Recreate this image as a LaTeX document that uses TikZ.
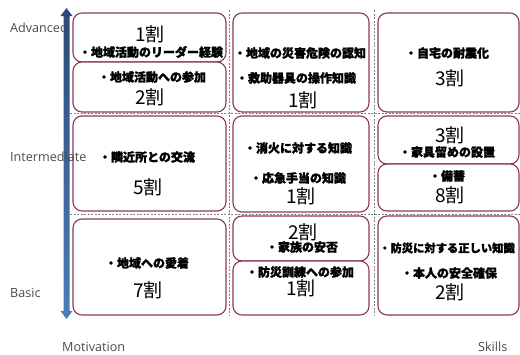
\documentclass[tikz,border=0pt]{standalone}
\usepackage{fontspec}
\setmainfont{Open Sans}
\newfontfamily\jp[BoldFeatures={FakeBold=1.6}]{Noto Sans CJK JP}
\definecolor{bord}{HTML}{8A3A58}
\definecolor{arrtop}{HTML}{2B4A78}
\definecolor{arrbot}{HTML}{4C7DB8}
\definecolor{labgray}{HTML}{4A4A4A}
\definecolor{dashgray}{HTML}{808080}
\tikzset{
  box/.style={draw=bord, line width=1.1pt, rounded corners=9pt, fill=white, inner sep=0pt},
  jt/.style={font=\jp\bfseries\fontsize{12}{12}\selectfont, inner sep=0pt},
  num/.style={font=\jp\fontsize{19}{19}\selectfont, inner sep=0pt},
  lab/.style={font=\fontsize{12.6}{13}\selectfont, text=labgray, inner sep=0pt, anchor=west},
  grid/.style={draw=dashgray, line width=0.6pt, dash pattern=on 2pt off 1.5pt}
}
\begin{document}
\begin{tikzpicture}[x=1pt,y=-1pt]
\useasboundingbox (0,0) rectangle (520,354);
% grid
\coordinate (h1a) at (70,113); \coordinate (h1b) at (520,113);
\coordinate (h2a) at (70,214); \coordinate (h2b) at (520,214);
\coordinate (v1a) at (229,10); \coordinate (v1b) at (229,316);
\coordinate (v2a) at (374,10); \coordinate (v2b) at (374,316);
\draw[grid] (h1a) -- (h1b);
\draw[grid] (h2a) -- (h2b);
\draw[grid] (v1a) -- (v1b);
\draw[grid] (v2a) -- (v2b);
% arrow
\shade[top color=arrtop, bottom color=arrbot]
  (66.5,8) -- (72.5,16) -- (69.5,16) -- (69.5,311) -- (72.5,311) -- (66.5,319)
  -- (60.5,311) -- (63.5,311) -- (63.5,16) -- (60.5,16) -- cycle;
% boxes col1
\node[box, minimum width=153pt, minimum height=49pt] (a1) at (149.5,37.5) {};
\node[box, minimum width=153pt, minimum height=50pt] (a2) at (149.5,87) {};
\node[box, minimum width=153pt, minimum height=95pt] (a3) at (149.5,163.5) {};
\node[box, minimum width=153pt, minimum height=96pt] (a4) at (149.5,267) {};
% col2
\node[box, minimum width=136pt, minimum height=99pt] (b1) at (301,62.5) {};
\node[box, minimum width=136pt, minimum height=96pt] (b2) at (301,164) {};
\node[box, minimum width=136pt, minimum height=45pt] (b3) at (301,238.5) {};
\node[box, minimum width=136pt, minimum height=54pt] (b4) at (301,288) {};
% col3
\node[box, minimum width=141pt, minimum height=99pt] (c1) at (448.5,62.5) {};
\node[box, minimum width=141pt, minimum height=48pt] (c2) at (448.5,140) {};
\node[box, minimum width=141pt, minimum height=47pt] (c3) at (448.5,187.5) {};
\node[box, minimum width=141pt, minimum height=99pt] (c4) at (448.5,265.5) {};
% texts col1
\node[num] (n1) at (150,34) {1割};
\node[jt] (t1) at (151,52) {・地域活動のリーダー経験};
\node[jt] (t2) at (152,77) {・地域活動への参加};
\node[num] (n2) at (150,97) {2割};
\node[jt] (t3) at (147,157) {・隣近所との交流};
\node[num] (n3) at (148,187) {5割};
\node[jt] (t4) at (147,263) {・地域への愛着};
\node[num] (n4) at (148,290) {7割};
% col2
\node[jt] (t5) at (300,53) {・地域の災害危険の認知};
\node[jt] (t6) at (296,78) {・救助器具の操作知識};
\node[num] (n5) at (303,100) {1割};
\node[jt] (t7) at (298,148) {・消火に対する知識};
\node[jt] (t8) at (298,178) {・応急手当の知識};
\node[num] (n6) at (301,196) {1割};
\node[num] (n7) at (303,232) {2割};
\node[jt] (t9) at (302,247) {・家族の安否};
\node[jt] (t10) at (300,272) {・防災訓練への参加};
\node[num] (n8) at (301,288) {1割};
% col3
\node[jt] (t11) at (447,53) {・自宅の耐震化};
\node[num] (n9) at (450,78) {3割};
\node[num] (n10) at (450,135) {3割};
\node[jt] (t12) at (447,152) {・家具留めの設置};
\node[jt] (t13) at (447,176) {・備蓄};
\node[num] (n11) at (450,195) {8割};
\node[jt, font=\jp\bfseries\fontsize{11.3}{12}\selectfont, anchor=west] (t14) at (379,248) {・防災に対する正しい知識};
\node[jt] (t15) at (449,273) {・本人の安全確保};
\node[num] (n12) at (450,292) {2割};
% labels
\node[lab] (l1) at (10,28) {Advanced};
\node[lab] (l2) at (10,157) {Intermediate};
\node[lab] (l3) at (10,293) {Basic};
\node[lab] (l4) at (62,347) {Motivation};
\node[lab] (l5) at (478,347) {Skills};
\end{tikzpicture}
\end{document}
